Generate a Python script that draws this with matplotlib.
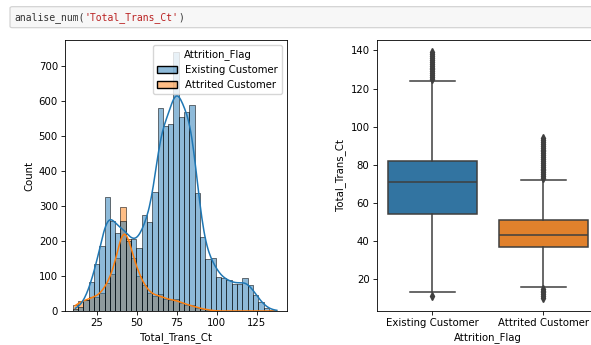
import numpy as np
import pandas as pd
import matplotlib
matplotlib.use("Agg")
import matplotlib.pyplot as plt
import seaborn as sns
from matplotlib.patches import FancyBboxPatch

# ---------------- data ----------------
categories = ["Existing Customer", "Attrited Customer"]
trans_ct_min = 10
trans_ct_max = 139
n_bins = 39
existing_counts = [5, 12, 30, 84, 135, 187, 327, 258, 224, 258, 200, 205, 180,
                   274, 255, 340, 579, 529, 534, 739, 553, 569, 589, 338, 210,
                   148, 150, 98, 93, 89, 76, 76, 93, 74, 47, 27, 8, 3, 1]
attrited_counts = [18, 28, 30, 40, 40, 50, 80, 105, 150, 298, 205, 150, 100,
                   75, 50, 42, 48, 33, 30, 35, 22, 18, 16, 9, 6, 4, 0, 0,
                   0, 0, 0, 0, 0, 0, 0, 0, 0, 0, 0]

# box plot statistics
box_q1 = [54, 37]
box_med = [71, 43]
box_q3 = [82, 51]
box_whislo = [13, 16]
box_whishi = [124, 72]
existing_fliers = [11, 125, 126, 127, 128, 129, 130, 131, 132, 133, 134, 135,
                   136, 137, 138, 139]
attrited_fliers = [10, 11, 12, 13, 14, 15, 73, 74, 75, 76, 77, 78, 79, 80, 81,
                   82, 83, 84, 85, 86, 87, 88, 89, 90, 91, 92, 93, 94]

code_fn = "analise_num("
code_arg = "'Total_Trans_Ct'"
code_end = ")"

# ---------------- style ----------------
FS = 7.3
plt.rcParams.update({
    "font.family": ["DejaVu Sans"],
    "font.size": FS,
    "axes.linewidth": 0.6,
    "xtick.major.size": 2.6,
    "ytick.major.size": 2.6,
    "xtick.major.width": 0.6,
    "ytick.major.width": 0.6,
    "xtick.major.pad": 2.5,
    "ytick.major.pad": 2.5,
    "axes.labelpad": 3,
    "lines.linewidth": 1.1,
    "legend.fontsize": FS,
    "legend.title_fontsize": FS,
})

fig = plt.figure(figsize=(5.91, 3.45), dpi=100)

# code cell
cell = FancyBboxPatch((10 / 591, 1 - 27.7 / 345), 0.99, 21 / 345,
                      boxstyle="round,pad=0,rounding_size=0.004",
                      transform=fig.transFigure, facecolor="#f7f7f7",
                      edgecolor="#cfcfcf", linewidth=0.8, zorder=0)
fig.patches.append(cell)
mono_fs = 7.0
cw = 0.602 * mono_fs  # monospace advance in points
x0, y0 = 14 / 591, 1 - 17.5 / 345
for i, (txt, col) in enumerate([(code_fn, "#333333"),
                                (code_arg, "#BA2121"),
                                (code_end, "#333333")]):
    offset = sum(len(t) for t in [code_fn, code_arg, code_end][:i]) * cw
    fig.text(0, 0, "")
    ann = fig.add_artist(matplotlib.text.Annotation(
        txt, xy=(x0, y0), xycoords="figure fraction",
        xytext=(offset, 0), textcoords="offset points",
        family="DejaVu Sans Mono", fontsize=mono_fs, color=col,
        va="center", ha="left"))

# ---------------- histogram ----------------
ax1 = fig.add_axes([65 / 591, 1 - 311 / 345, 222.3 / 591, 271 / 345])
edges = np.linspace(trans_ct_min, trans_ct_max, n_bins + 1)
centers = (edges[:-1] + edges[1:]) / 2
df = pd.DataFrame({
    "Total_Trans_Ct": np.concatenate([np.repeat(centers, existing_counts),
                                      np.repeat(centers, attrited_counts)]),
    "Attrition_Flag": [categories[0]] * int(np.sum(existing_counts))
    + [categories[1]] * int(np.sum(attrited_counts)),
})
sns.histplot(data=df, x="Total_Trans_Ct", hue="Attrition_Flag",
             hue_order=categories, bins=edges, kde=True, ax=ax1,
             line_kws={"linewidth": 1.1})
ax1.set_xlim(5.2, 143.9)
ax1.set_ylim(0, 774)
ax1.set_xticks([25, 50, 75, 100, 125])
ax1.set_yticks(range(0, 701, 100))
sns.move_legend(ax1, "upper right", title="Attrition_Flag")

# ---------------- box plot ----------------
ax2 = fig.add_axes([376.7 / 591, 1 - 310.5 / 345, 222.3 / 591, 270.5 / 345])
fliers = [existing_fliers, attrited_fliers]
stats = []
for i, cat in enumerate(categories):
    stats.append(dict(med=box_med[i], q1=box_q1[i], q3=box_q3[i],
                      whislo=box_whislo[i], whishi=box_whishi[i],
                      fliers=fliers[i], label=cat))
lc = "#3f3f3f"
bp = ax2.bxp(stats, positions=[0, 1], widths=0.8, patch_artist=True,
             boxprops=dict(edgecolor=lc, linewidth=1.1),
             whiskerprops=dict(color=lc, linewidth=1.1),
             capprops=dict(color=lc, linewidth=1.1),
             medianprops=dict(color=lc, linewidth=1.1),
             flierprops=dict(marker="d", markerfacecolor=lc,
                             markeredgecolor=lc, markersize=3.7))
for patch, col in zip(bp["boxes"], ["#3274A1", "#E1812C"]):
    patch.set_facecolor(col)
ax2.set_xlim(-0.5, 1.5)
ax2.set_ylim(3.55, 145.45)
ax2.set_yticks(range(20, 141, 20))
ax2.set_xticks([0, 1])
ax2.set_xticklabels(categories)
ax2.set_xlabel("Attrition_Flag")
ax2.set_ylabel("Total_Trans_Ct")

fig.savefig("out.png", dpi=100)
